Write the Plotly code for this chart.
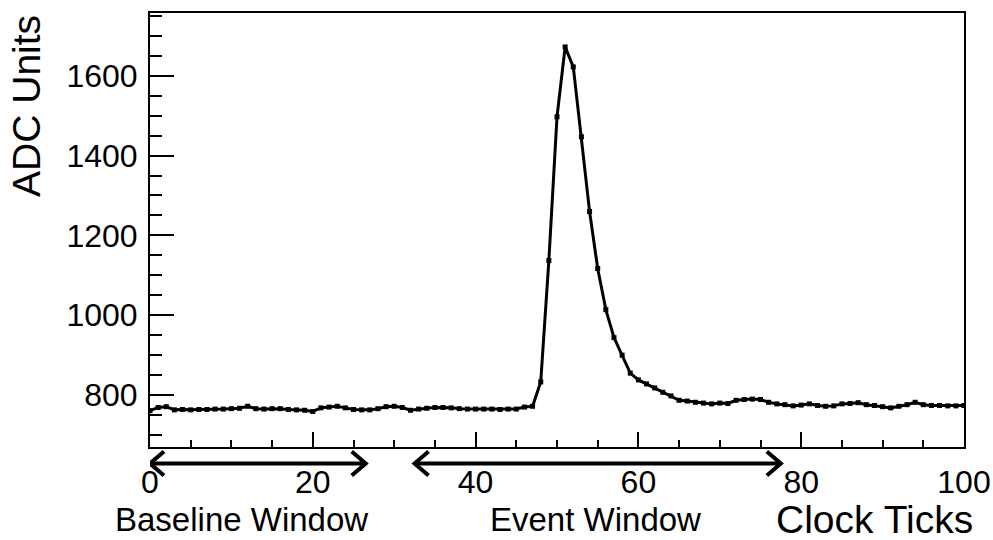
import plotly.graph_objects as go

# Digitised waveform: one ADC sample per clock tick
clock_ticks = list(range(0, 101))
adc_values = [
    761, 769, 771, 763, 764, 763, 764, 764, 765, 765,
    766, 767, 772, 766, 765, 766, 766, 764, 763, 762,
    759, 768, 770, 772, 768, 764, 763, 763, 766, 771,
    772, 769, 762, 765, 767, 769, 769, 768, 766, 765,
    765, 765, 765, 764, 765, 765, 770, 772, 833, 1137,
    1497, 1672, 1622, 1447, 1260, 1117, 1014, 944, 900, 855,
    838, 828, 818, 807, 798, 787, 785, 782, 780, 778,
    780, 779, 787, 789, 790, 789, 782, 778, 776, 773,
    775, 778, 774, 772, 773, 778, 779, 781, 776, 774,
    771, 768, 772, 776, 782, 776, 774, 774, 773, 773,
    774,
]

# Integration windows (in clock ticks)
baseline_window = [0, 26.5]
event_window = [32.5, 77.5]
window_labels = ["Baseline Window", "Event Window"]
window_label_x = [11.3, 54.7]

x_range = [0, 100]
y_range = [670, 1757]

fig = go.Figure()
fig.add_trace(go.Scatter(
    x=clock_ticks, y=adc_values, mode="lines+markers",
    line=dict(color="black", width=3),
    marker=dict(symbol="square", size=5, color="black"),
    showlegend=False,
))

axis_font = dict(family="Liberation Sans, Arial, sans-serif", size=32, color="black")

fig.update_xaxes(
    range=x_range, showgrid=False, zeroline=False, automargin=False,
    showline=True, linecolor="black", linewidth=2, mirror=True,
    ticks="inside", tickcolor="black", ticklen=15, tickwidth=1.5,
    tick0=0, dtick=20, tickfont=axis_font, ticklabelstandoff=6,
    minor=dict(ticks="inside", ticklen=7.5, tickwidth=1.5, tickcolor="black", dtick=5),
)
fig.update_yaxes(
    range=y_range, showgrid=False, zeroline=False, automargin=False,
    showline=True, linecolor="black", linewidth=2, mirror=True,
    ticks="inside", tickcolor="black", ticklen=24, tickwidth=1.5,
    tick0=0, dtick=200, tickfont=axis_font, ticklabelstandoff=4,
    minor=dict(ticks="inside", ticklen=12, tickwidth=1.5, tickcolor="black", dtick=50),
)

arrow_y = -0.038
head_w, head_h = 14, 12
for lo, hi in (baseline_window, event_window):
    fig.add_shape(type="line", xref="x", yref="paper", x0=lo, x1=hi,
                  y0=arrow_y, y1=arrow_y, line=dict(color="black", width=4))
    for tip, sign in ((lo, 1), (hi, -1)):
        fig.add_shape(
            type="path", xref="x", yref="paper",
            xsizemode="pixel", ysizemode="pixel", xanchor=tip, yanchor=arrow_y,
            path=f"M {sign*head_w},{head_h} L 0,0 L {sign*head_w},{-head_h}",
            line=dict(color="black", width=4),
        )

label_font = dict(family="Liberation Sans Narrow, Liberation Sans, Arial, sans-serif",
                  size=33, color="black")
for text, xc in zip(window_labels, window_label_x):
    fig.add_annotation(text=text, x=xc, xref="x", y=-0.168, yref="paper",
                       showarrow=False, xanchor="center", yanchor="middle",
                       font=label_font)

title_font = dict(family="Liberation Sans, Arial, sans-serif", size=39, color="black")
fig.add_annotation(text="Clock Ticks", x=1.0135, xref="paper", y=-0.168, yref="paper",
                   showarrow=False, xanchor="right", yanchor="middle", font=title_font)
fig.add_annotation(text="ADC Units", x=-0.151, xref="paper", y=0.786, yref="paper",
                   showarrow=False, textangle=-90, xanchor="center", yanchor="middle",
                   font=title_font)

fig.update_layout(
    width=993, height=540,
    margin=dict(l=150, r=29, t=13, b=93),
    paper_bgcolor="white", plot_bgcolor="white",
)

fig.write_html("out.html")
